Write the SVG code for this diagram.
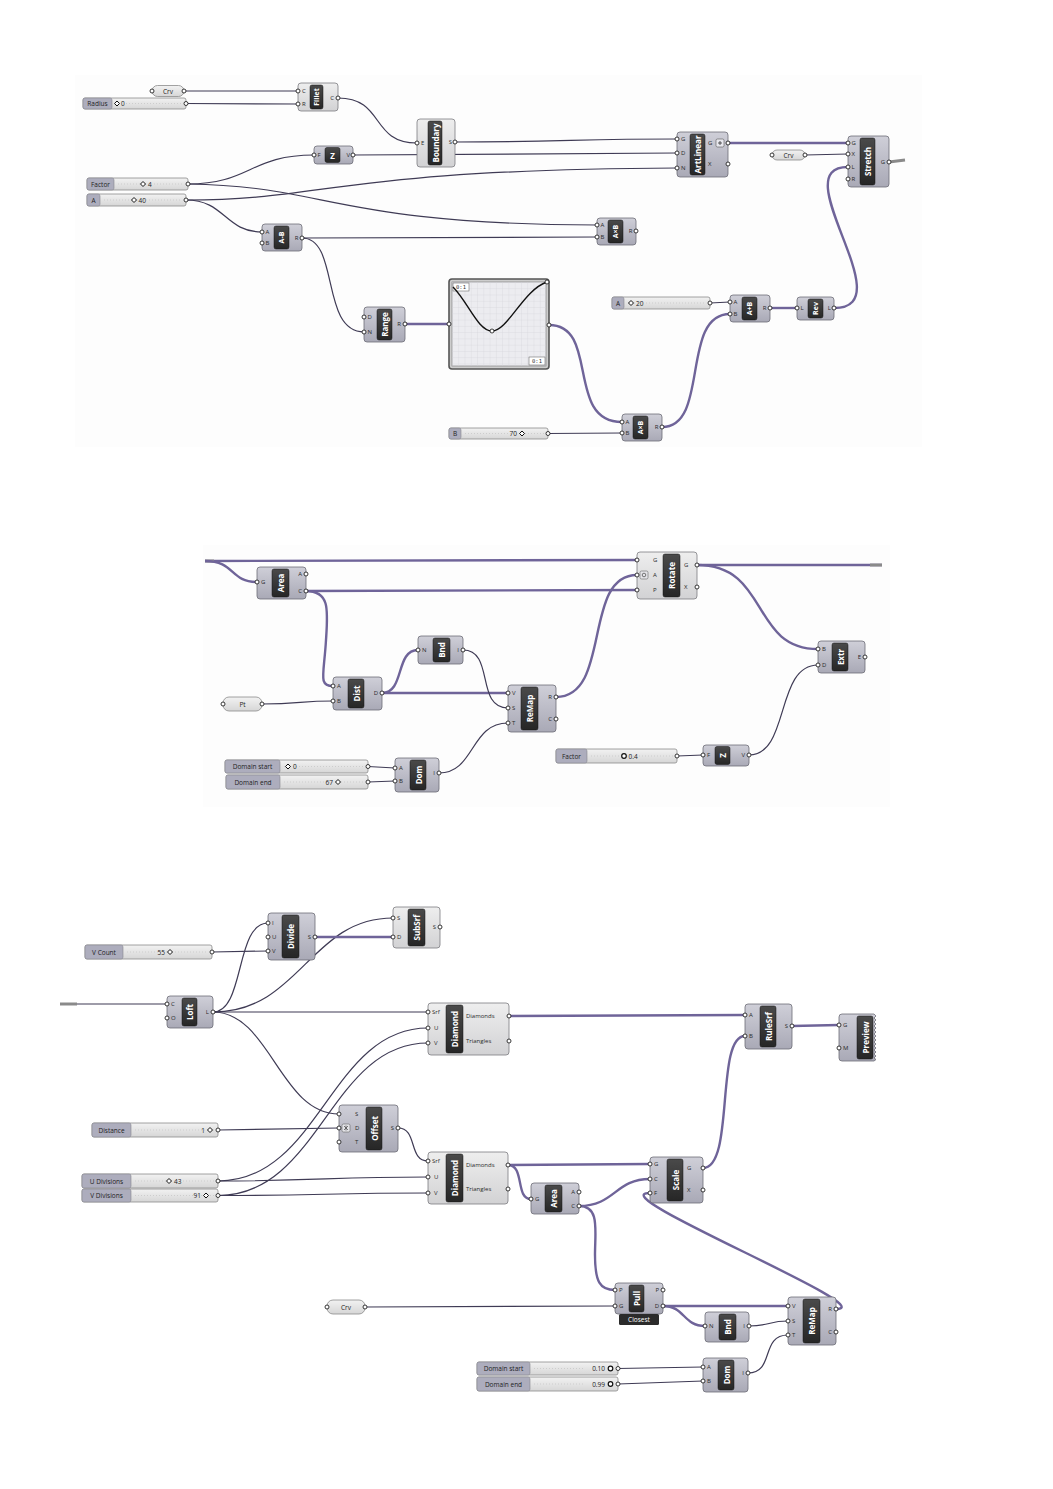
<svg xmlns="http://www.w3.org/2000/svg" width="1053" height="1489" viewBox="0 0 1053 1489">
<defs>
<linearGradient id="gb" x1="0" y1="0" x2="0" y2="1"><stop offset="0" stop-color="#cfcfd8"/><stop offset="1" stop-color="#a9a9b6"/></linearGradient>
<linearGradient id="gl" x1="0" y1="0" x2="0" y2="1"><stop offset="0" stop-color="#eeeeee"/><stop offset="1" stop-color="#d2d2d4"/></linearGradient>
<linearGradient id="gs" x1="0" y1="0" x2="0" y2="1"><stop offset="0" stop-color="#f2f2f2"/><stop offset="1" stop-color="#d6d6d6"/></linearGradient>
<linearGradient id="gk" x1="0" y1="0" x2="0" y2="1"><stop offset="0" stop-color="#4a4a4a"/><stop offset="1" stop-color="#262626"/></linearGradient>
<pattern id="grid" x="452" y="282" width="6.27" height="6.27" patternUnits="userSpaceOnUse"><path d="M0,0H6.27M0,0V6.27" fill="none" stroke="#d2d2d8" stroke-width="0.6"/></pattern>
<style>
.cb{fill:url(#gb);stroke:#6c6c76;stroke-width:.8}
.cbl{fill:url(#gl);stroke:#7c7c82;stroke-width:.8}
.lb{fill:url(#gk);stroke:#151515;stroke-width:.5}
.lt{font-family:"Open Sans","DejaVu Sans",sans-serif;font-weight:bold;font-size:8px;fill:#fff;text-anchor:middle;dominant-baseline:central}
.pl{font-family:"Open Sans","DejaVu Sans",sans-serif;font-size:6px;fill:#2a2a2a;dominant-baseline:central}
.pr{font-family:"Open Sans","DejaVu Sans",sans-serif;font-size:6px;fill:#2a2a2a;dominant-baseline:central;text-anchor:end}
.pt{fill:#fff;stroke:#222;stroke-width:.9}
.w{fill:none;stroke:#3f3b55;stroke-width:1.2}
.wt{fill:none;stroke:#6f6499;stroke-width:2.4}
.stub{fill:none;stroke:#8a8a8a;stroke-width:3}
.sb{fill:url(#gs);stroke:#8a8a8a;stroke-width:.8}
.sl{fill:#adadbd;stroke:#86868f;stroke-width:.6}
.st{font-family:"Open Sans","DejaVu Sans",sans-serif;font-size:6.5px;fill:#222;dominant-baseline:central}
.stc{font-family:"Open Sans","DejaVu Sans",sans-serif;font-size:6.5px;fill:#222;dominant-baseline:central;text-anchor:middle}
.str{font-family:"Open Sans","DejaVu Sans",sans-serif;font-size:6.5px;fill:#222;dominant-baseline:central;text-anchor:end}
.trk{stroke:#cdcdcd;stroke-width:1;stroke-dasharray:1 2}
.grip{fill:#fff;stroke:#111;stroke-width:1}
.pm{fill:url(#gs);stroke:#8a8a8a;stroke-width:.8}
</style>
</defs>
<rect x="0" y="0" width="1053" height="1489" fill="#ffffff"/>
<rect x="75" y="75" width="847" height="372" fill="#fdfdfd"/>
<rect x="203" y="545" width="687" height="262" fill="#fdfdfd"/>

<g id="connectors">
<!-- section 1 -->
<path class="w" d="M184,91 L298,91"/>
<path class="w" d="M186,103.5 L298,104"/>
<path class="w" d="M338,98 C385,98 370,143 417,143"/>
<path class="w" d="M455,142 C560,142 580,139 677,139"/>
<path class="w" d="M353,155 L677,153"/>
<path class="w" d="M188,184 C250,184 250,155 314,155"/>
<path class="w" d="M188,184 C330,186 330,224 597,225"/>
<path class="w" d="M186,200 C330,200 330,170 677,168"/>
<path class="w" d="M186,200 C225,200 225,232 262,232"/>
<path class="w" d="M302,238 L597,237"/>
<path class="w" d="M302,238 C340,238 320,332 364,332"/>
<path class="wt" d="M405,324 L449,324"/>
<path class="wt" d="M549,325 C600,325 565,422 622,422"/>
<path class="w" d="M548,433.5 L622,433"/>
<path class="wt" d="M662,427 C710,427 680,314 730,314"/>
<path class="w" d="M710,303 L730,302"/>
<path class="wt" d="M770,308 L797,308"/>
<path class="wt" d="M834,308 C905,308 782,167 848,167"/>
<path class="wt" d="M728,143 L848,143"/>
<path class="w" d="M805,155 L848,154"/>
<path class="stub" d="M889,162 L905,160"/>
<!-- section 2 -->
<path class="wt" d="M205,561 L637,560"/>
<path class="stub" d="M205,561 L214,561"/>
<path class="wt" d="M205,561 C235,561 230,582 257,582"/>
<path class="wt" d="M306,591 L637,590"/>
<path class="wt" d="M306,591 C330,591 328,610 326,640 C324,675 318,686 333,686"/>
<path class="w" d="M262,704 C300,704 300,701 333,701"/>
<path class="wt" d="M382,693 L508,693"/>
<path class="wt" d="M382,693 C405,693 395,650 418,650"/>
<path class="w" d="M463,650 C495,650 475,708 508,708"/>
<path class="w" d="M368,766.5 L395,768"/>
<path class="w" d="M368,782 L395,781"/>
<path class="w" d="M439,773 C475,773 470,723 508,723"/>
<path class="wt" d="M556,697 C612,697 582,575 637,575"/>
<path class="wt" d="M697,565 L882,565"/>
<path class="stub" d="M870,565 L882,565"/>
<path class="wt" d="M697,565 C770,565 750,649 818,649"/>
<path class="w" d="M677,756 L703,755"/>
<path class="w" d="M749,755 C790,755 775,665 818,665"/>
<!-- section 3 -->
<path class="w" d="M60,1004 L167,1004"/>
<path class="stub" d="M60,1004 L77,1004"/>
<path class="w" d="M213,1012 C245,1012 235,923 268,923"/>
<path class="w" d="M213,1012 C300,1012 310,918 393,918"/>
<path class="w" d="M213,1012 L428,1012"/>
<path class="w" d="M213,1012 C270,1012 280,1114 339,1114"/>
<path class="w" d="M212,952 L268,951"/>
<path class="wt" d="M315,937 L393,937"/>
<path class="w" d="M218,1130 L339,1128"/>
<path class="w" d="M218,1181 C320,1181 330,1028 428,1028"/>
<path class="w" d="M218,1195.5 C320,1195.5 330,1043 428,1043"/>
<path class="w" d="M218,1181 C320,1181 330,1177 428,1177"/>
<path class="w" d="M218,1195.5 C320,1195.5 330,1193 428,1193"/>
<path class="w" d="M398,1128 C418,1128 408,1161 428,1161"/>
<path class="wt" d="M509,1016 L745,1015"/>
<path class="wt" d="M792,1026 L839,1025"/>
<path class="wt" d="M508,1165 L650,1164"/>
<path class="wt" d="M508,1165 C525,1165 515,1199 531,1199"/>
<path class="wt" d="M579,1206 C615,1206 615,1179 650,1179"/>
<path class="wt" d="M579,1206 C600,1206 595,1230 595,1255 C595,1282 600,1290 615,1290"/>
<path class="wt" d="M703,1168 C735,1168 715,1036 745,1036"/>
<path class="wt" d="M836,1309 C885,1309 598,1193 650,1193"/>
<path class="w" d="M365,1307 L615,1306"/>
<path class="wt" d="M663,1306 L788,1306"/>
<path class="wt" d="M663,1306 C685,1306 683,1326 705,1326"/>
<path class="w" d="M749,1326 C770,1326 768,1321 788,1321"/>
<path class="w" d="M618,1368.5 L703,1367"/>
<path class="w" d="M618,1384 L703,1381"/>
<path class="w" d="M748,1373 C775,1373 760,1335 788,1335"/>
</g>

<!-- ============ SECTION 1 ============ -->
<g id="crv1">
<rect class="pm" x="152" y="85.5" width="32" height="11" rx="5.5"/>
<text class="stc" x="168" y="91">Crv</text>
<circle class="pt" cx="152" cy="91" r="2"/><circle class="pt" cx="184" cy="91" r="2"/>
</g>
<g id="radius">
<rect class="sb" x="83" y="98" width="103" height="11" rx="2"/>
<rect class="sl" x="83" y="98" width="29" height="11" rx="2"/>
<text class="stc" x="97.5" y="103.5">Radius</text>
<line class="trk" x1="126" y1="103.5" x2="182" y2="103.5"/>
<polygon class="grip" points="117,101 119.5,103.5 117,106 114.5,103.5"/>
<text class="st" x="121" y="103.5">0</text>
<circle class="pt" cx="186" cy="103.5" r="2"/>
</g>
<g id="fillet">
<rect class="cbl" x="298" y="83" width="40" height="28" rx="3"/>
<rect class="lb" x="310" y="85" width="13" height="24" rx="2"/>
<text class="lt" transform="translate(316.5,97) rotate(-90)" style="font-size:7px">Fillet</text>
<text class="pl" x="302" y="91">C</text><text class="pl" x="302" y="104">R</text>
<text class="pr" x="334" y="98">C</text>
<circle class="pt" cx="298" cy="91" r="2"/><circle class="pt" cx="298" cy="104" r="2"/><circle class="pt" cx="338" cy="98" r="2"/>
</g>
<g id="boundary">
<rect class="cbl" x="417" y="119" width="38" height="48" rx="3"/>
<rect class="lb" x="428" y="121" width="14" height="44" rx="2"/>
<text class="lt" transform="translate(435,143) rotate(-90)">Boundary</text>
<text class="pl" x="421" y="143">E</text><text class="pr" x="452" y="142">S</text>
<circle class="pt" cx="417" cy="143" r="2"/><circle class="pt" cx="455" cy="142" r="2"/>
</g>
<g id="unitz1">
<rect class="cb" x="314" y="146" width="39" height="18" rx="3"/>
<rect class="lb" x="325" y="147.5" width="15" height="15" rx="2"/>
<text class="lt" x="332.5" y="155">Z</text>
<text class="pl" x="317.5" y="155">F</text><text class="pr" x="350" y="155">V</text>
<circle class="pt" cx="314" cy="155" r="2"/><circle class="pt" cx="353" cy="155" r="2"/>
</g>
<g id="factor1">
<rect class="sb" x="87" y="178" width="101" height="12" rx="2"/>
<rect class="sl" x="87" y="178" width="27" height="12" rx="2"/>
<text class="stc" x="100.5" y="184">Factor</text>
<line class="trk" x1="118" y1="184" x2="184" y2="184"/>
<polygon class="grip" points="143,181.5 145.5,184 143,186.5 140.5,184"/>
<text class="st" x="148" y="184">4</text>
<circle class="pt" cx="188" cy="184" r="2"/>
</g>
<g id="sliderA40">
<rect class="sb" x="87" y="194" width="99" height="12" rx="2"/>
<rect class="sl" x="87" y="194" width="13" height="12" rx="2"/>
<text class="stc" x="93.5" y="200">A</text>
<line class="trk" x1="104" y1="200" x2="182" y2="200"/>
<polygon class="grip" points="134,197.5 136.5,200 134,202.5 131.5,200"/>
<text class="st" x="138.5" y="200">40</text>
<circle class="pt" cx="186" cy="200" r="2"/>
</g>
<g id="aminusb">
<rect class="cb" x="262" y="224" width="40" height="27" rx="3"/>
<rect class="lb" x="274" y="226" width="15" height="23" rx="2"/>
<text class="lt" transform="translate(281.5,237.5) rotate(-90)" style="font-size:7px">A-B</text>
<text class="pl" x="265.5" y="232">A</text><text class="pl" x="265.5" y="243">B</text>
<text class="pr" x="298.5" y="238">R</text>
<circle class="pt" cx="262" cy="232" r="2"/><circle class="pt" cx="262" cy="243" r="2"/><circle class="pt" cx="302" cy="238" r="2"/>
</g>
<g id="artlinear">
<rect class="cb" x="677" y="132" width="51" height="45" rx="3"/>
<rect class="lb" x="690" y="134" width="15" height="41" rx="2"/>
<text class="lt" transform="translate(697.5,154.5) rotate(-90)">ArtLinear</text>
<text class="pl" x="681" y="139">G</text><text class="pl" x="681" y="153">D</text><text class="pl" x="681" y="168">N</text>
<text class="pl" x="708" y="143">G</text><text class="pl" x="708" y="164">X</text>
<rect x="716" y="139" width="8" height="8" rx="1.5" fill="#e8e8ee" stroke="#555" stroke-width=".6"/>
<path d="M718,143 H722 M720,141 V145" stroke="#333" stroke-width=".8"/>
<circle class="pt" cx="677" cy="139" r="2"/><circle class="pt" cx="677" cy="153" r="2"/><circle class="pt" cx="677" cy="168" r="2"/>
<circle class="pt" cx="728" cy="143" r="2"/><circle class="pt" cx="728" cy="164" r="2"/>
</g>
<g id="stretch">
<rect class="cb" x="848" y="136" width="41" height="51" rx="3"/>
<rect class="lb" x="860" y="138" width="15" height="47" rx="2"/>
<text class="lt" transform="translate(867.5,161.5) rotate(-90)">Stretch</text>
<text class="pl" x="851.5" y="143">G</text><text class="pl" x="851.5" y="154">X</text><text class="pl" x="851.5" y="167">L</text><text class="pl" x="851.5" y="179">R</text>
<text class="pr" x="885" y="162">G</text>
<circle class="pt" cx="848" cy="143" r="2"/><circle class="pt" cx="848" cy="154" r="2"/><circle class="pt" cx="848" cy="167" r="2"/><circle class="pt" cx="848" cy="179" r="2"/>
<circle class="pt" cx="889" cy="162" r="2"/>
</g>
<g id="crv2">
<rect class="pm" x="772" y="150" width="33" height="10" rx="5"/>
<text class="stc" x="788.5" y="155">Crv</text>
<circle class="pt" cx="772" cy="155" r="2"/><circle class="pt" cx="805" cy="155" r="2"/>
</g>
<g id="atimesb1">
<rect class="cb" x="597" y="218" width="39" height="27" rx="3"/>
<rect class="lb" x="608" y="220" width="15" height="23" rx="2"/>
<text class="lt" transform="translate(615.5,231.5) rotate(-90)" style="font-size:7px">A×B</text>
<text class="pl" x="600.5" y="225">A</text><text class="pl" x="600.5" y="237">B</text>
<text class="pr" x="632.5" y="231">R</text>
<circle class="pt" cx="597" cy="225" r="2"/><circle class="pt" cx="597" cy="237" r="2"/><circle class="pt" cx="636" cy="231" r="2"/>
</g>
<g id="range">
<rect class="cb" x="364" y="307" width="41" height="35" rx="3"/>
<rect class="lb" x="377" y="309" width="15" height="31" rx="2"/>
<text class="lt" transform="translate(384.5,324.5) rotate(-90)">Range</text>
<text class="pl" x="367.5" y="317">D</text><text class="pl" x="367.5" y="332">N</text>
<text class="pr" x="401" y="324">R</text>
<circle class="pt" cx="364" cy="317" r="2"/><circle class="pt" cx="364" cy="332" r="2"/><circle class="pt" cx="405" cy="324" r="2"/>
</g>
<g id="graphmapper">
<rect x="449" y="279" width="100" height="90" rx="3" fill="#cdcdcd" stroke="#555" stroke-width="1.6"/>
<rect x="452" y="282" width="94" height="84" fill="#ececf0" stroke="#777" stroke-width=".6"/>
<rect x="452" y="282" width="94" height="84" fill="url(#grid)"/>
<rect x="453" y="283" width="16" height="8" fill="#fff" stroke="#555" stroke-width=".5"/>
<text x="461" y="287.2" font-family="DejaVu Sans Mono, monospace" font-size="5.5" text-anchor="middle" dominant-baseline="central" fill="#333">0:1</text>
<rect x="529" y="357" width="16" height="8" fill="#fff" stroke="#555" stroke-width=".5"/>
<text x="537" y="361.2" font-family="DejaVu Sans Mono, monospace" font-size="5.5" text-anchor="middle" dominant-baseline="central" fill="#333">0:1</text>
<path d="M453,287 C468,302 478,331 492,331 C508,331 523,290 547,282" fill="none" stroke="#111" stroke-width="1.4"/>
<circle cx="492" cy="331" r="2" fill="#fff" stroke="#111" stroke-width=".8"/>
<circle cx="547" cy="282" r="2" fill="#fff" stroke="#111" stroke-width=".8"/>
<circle class="pt" cx="449" cy="324" r="2"/><circle class="pt" cx="549" cy="325" r="2"/>
</g>
<g id="atimesb2">
<rect class="cb" x="622" y="414" width="40" height="27" rx="3"/>
<rect class="lb" x="633" y="416" width="15" height="23" rx="2"/>
<text class="lt" transform="translate(640.5,427.5) rotate(-90)" style="font-size:7px">A×B</text>
<text class="pl" x="625.5" y="422">A</text><text class="pl" x="625.5" y="433">B</text>
<text class="pr" x="658.5" y="427">R</text>
<circle class="pt" cx="622" cy="422" r="2"/><circle class="pt" cx="622" cy="433" r="2"/><circle class="pt" cx="662" cy="427" r="2"/>
</g>
<g id="sliderB70">
<rect class="sb" x="449" y="428" width="99" height="11" rx="2"/>
<rect class="sl" x="449" y="428" width="12" height="11" rx="2"/>
<text class="stc" x="455" y="433.5">B</text>
<line class="trk" x1="465" y1="433.5" x2="544" y2="433.5"/>
<text class="str" x="517" y="433.5">70</text>
<polygon class="grip" points="522,431 524.5,433.5 522,436 519.5,433.5"/>
<circle class="pt" cx="548" cy="433.5" r="2"/>
</g>
<g id="sliderA20">
<rect class="sb" x="612" y="297" width="98" height="12" rx="2"/>
<rect class="sl" x="612" y="297" width="12" height="12" rx="2"/>
<text class="stc" x="618" y="303">A</text>
<line class="trk" x1="628" y1="303" x2="706" y2="303"/>
<polygon class="grip" points="631,300.5 633.5,303 631,305.5 628.5,303"/>
<text class="st" x="636" y="303">20</text>
<circle class="pt" cx="710" cy="303" r="2"/>
</g>
<g id="aplusb">
<rect class="cb" x="730" y="295" width="40" height="27" rx="3"/>
<rect class="lb" x="742" y="297" width="15" height="23" rx="2"/>
<text class="lt" transform="translate(749.5,308.5) rotate(-90)" style="font-size:7px">A+B</text>
<text class="pl" x="733.5" y="302">A</text><text class="pl" x="733.5" y="314">B</text>
<text class="pr" x="766.5" y="308">R</text>
<circle class="pt" cx="730" cy="302" r="2"/><circle class="pt" cx="730" cy="314" r="2"/><circle class="pt" cx="770" cy="308" r="2"/>
</g>
<g id="rev">
<rect class="cb" x="797" y="297" width="37" height="23" rx="3"/>
<rect class="lb" x="808" y="299" width="15" height="19" rx="2"/>
<text class="lt" transform="translate(815.5,308.5) rotate(-90)" style="font-size:7px">Rev</text>
<text class="pl" x="800.5" y="308">L</text><text class="pr" x="831" y="308">L</text>
<circle class="pt" cx="797" cy="308" r="2"/><circle class="pt" cx="834" cy="308" r="2"/>
</g>

<!-- ============ SECTION 2 ============ -->
<g id="area2">
<rect class="cb" x="257" y="567" width="49" height="32" rx="3"/>
<rect class="lb" x="272" y="569" width="17" height="28" rx="2"/>
<text class="lt" transform="translate(280.5,583) rotate(-90)">Area</text>
<text class="pl" x="261" y="582">G</text>
<text class="pr" x="302" y="574">A</text><text class="pr" x="302" y="591">C</text>
<circle class="pt" cx="257" cy="582" r="2"/><circle class="pt" cx="306" cy="574" r="2"/><circle class="pt" cx="306" cy="591" r="2"/>
</g>
<g id="dist">
<rect class="cb" x="333" y="677" width="49" height="33" rx="3"/>
<rect class="lb" x="348" y="679" width="16" height="29" rx="2"/>
<text class="lt" transform="translate(356,693.5) rotate(-90)">Dist</text>
<text class="pl" x="337" y="686">A</text><text class="pl" x="337" y="701">B</text>
<text class="pr" x="378" y="693">D</text>
<circle class="pt" cx="333" cy="686" r="2"/><circle class="pt" cx="333" cy="701" r="2"/><circle class="pt" cx="382" cy="693" r="2"/>
</g>
<g id="pt">
<rect class="pm" x="223" y="697" width="39" height="14" rx="6"/>
<text class="stc" x="242.5" y="704">Pt</text>
<circle class="pt" cx="223" cy="704" r="2"/><circle class="pt" cx="262" cy="704" r="2"/>
</g>
<g id="bnd2">
<rect class="cb" x="418" y="636" width="45" height="28" rx="3"/>
<rect class="lb" x="433" y="638" width="17" height="24" rx="2"/>
<text class="lt" transform="translate(441.5,650) rotate(-90)">Bnd</text>
<text class="pl" x="422" y="650">N</text><text class="pr" x="459" y="650">I</text>
<circle class="pt" cx="418" cy="650" r="2"/><circle class="pt" cx="463" cy="650" r="2"/>
</g>
<g id="remap2">
<rect class="cb" x="508" y="685" width="48" height="47" rx="3"/>
<rect class="lb" x="521" y="687" width="17" height="43" rx="2"/>
<text class="lt" transform="translate(529.5,708.5) rotate(-90)">ReMap</text>
<text class="pl" x="512" y="693">V</text><text class="pl" x="512" y="708">S</text><text class="pl" x="512" y="723">T</text>
<text class="pr" x="552" y="697">R</text><text class="pr" x="552" y="719">C</text>
<circle class="pt" cx="508" cy="693" r="2"/><circle class="pt" cx="508" cy="708" r="2"/><circle class="pt" cx="508" cy="723" r="2"/>
<circle class="pt" cx="556" cy="697" r="2"/><circle class="pt" cx="556" cy="719" r="2"/>
</g>
<g id="domstart2">
<rect class="sb" x="225" y="760" width="143" height="13" rx="2"/>
<rect class="sl" x="225" y="760" width="55" height="13" rx="2"/>
<text class="stc" x="252.5" y="766.5">Domain start</text>
<line class="trk" x1="284" y1="766.5" x2="364" y2="766.5"/>
<polygon class="grip" points="288,764 290.5,766.5 288,769 285.5,766.5"/>
<text class="st" x="293" y="766.5">0</text>
<circle class="pt" cx="368" cy="766.5" r="2"/>
</g>
<g id="domend2">
<rect class="sb" x="226" y="775" width="142" height="14" rx="2"/>
<rect class="sl" x="226" y="775" width="54" height="14" rx="2"/>
<text class="stc" x="253" y="782">Domain end</text>
<line class="trk" x1="284" y1="782" x2="364" y2="782"/>
<text class="str" x="333" y="782">67</text>
<polygon class="grip" points="338,779.5 340.5,782 338,784.5 335.5,782"/>
<circle class="pt" cx="368" cy="782" r="2"/>
</g>
<g id="dom2">
<rect class="cb" x="395" y="758" width="44" height="34" rx="3"/>
<rect class="lb" x="410" y="760" width="16" height="30" rx="2"/>
<text class="lt" transform="translate(418,775) rotate(-90)">Dom</text>
<text class="pl" x="399" y="768">A</text><text class="pl" x="399" y="781">B</text>
<text class="pr" x="435" y="773">I</text>
<circle class="pt" cx="395" cy="768" r="2"/><circle class="pt" cx="395" cy="781" r="2"/><circle class="pt" cx="439" cy="773" r="2"/>
</g>
<g id="rotate">
<rect class="cbl" x="637" y="552" width="60" height="47" rx="3"/>
<rect class="lb" x="663" y="554" width="17" height="43" rx="2"/>
<text class="lt" transform="translate(671.5,575.5) rotate(-90)">Rotate</text>
<rect x="640" y="571" width="8" height="8" rx="1.5" fill="#e4e4e8" stroke="#666" stroke-width=".6"/>
<circle cx="644" cy="575" r="1.8" fill="none" stroke="#444" stroke-width=".7"/>
<text class="pl" x="653" y="560">G</text><text class="pl" x="653" y="575">A</text><text class="pl" x="653" y="590">P</text>
<text class="pl" x="684" y="565">G</text><text class="pl" x="684" y="587">X</text>
<circle class="pt" cx="637" cy="560" r="2"/><circle class="pt" cx="637" cy="575" r="2"/><circle class="pt" cx="637" cy="590" r="2"/>
<circle class="pt" cx="697" cy="565" r="2"/><circle class="pt" cx="697" cy="587" r="2"/>
</g>
<g id="extr">
<rect class="cb" x="818" y="641" width="47" height="32" rx="3"/>
<rect class="lb" x="832" y="643" width="16" height="28" rx="2"/>
<text class="lt" transform="translate(840,657) rotate(-90)">Extr</text>
<text class="pl" x="822" y="649">B</text><text class="pl" x="822" y="665">D</text>
<text class="pr" x="861" y="657">E</text>
<circle class="pt" cx="818" cy="649" r="2"/><circle class="pt" cx="818" cy="665" r="2"/><circle class="pt" cx="865" cy="657" r="2"/>
</g>
<g id="factor2">
<rect class="sb" x="556" y="749" width="121" height="14" rx="2"/>
<rect class="sl" x="556" y="749" width="31" height="14" rx="2"/>
<text class="stc" x="571.5" y="756">Factor</text>
<line class="trk" x1="591" y1="756" x2="673" y2="756"/>
<circle cx="624" cy="756" r="2.3" fill="#fff" stroke="#111" stroke-width="1.2"/>
<text class="st" x="628.5" y="756">0.4</text>
<circle class="pt" cx="677" cy="756" r="2"/>
</g>
<g id="unitz2">
<rect class="cb" x="703" y="745" width="46" height="21" rx="3"/>
<rect class="lb" x="715" y="746.5" width="15" height="18" rx="2"/>
<text class="lt" transform="translate(722.5,755.5) rotate(-90)">Z</text>
<text class="pl" x="707" y="755">F</text><text class="pr" x="745" y="755">V</text>
<circle class="pt" cx="703" cy="755" r="2"/><circle class="pt" cx="749" cy="755" r="2"/>
</g>

<!-- ============ SECTION 3 ============ -->
<g id="vcount">
<rect class="sb" x="85" y="945" width="127" height="14" rx="2"/>
<rect class="sl" x="85" y="945" width="38" height="14" rx="2"/>
<text class="stc" x="104" y="952">V Count</text>
<line class="trk" x1="127" y1="952" x2="208" y2="952"/>
<text class="str" x="165" y="952">55</text>
<polygon class="grip" points="170,949.5 172.5,952 170,954.5 167.5,952"/>
<circle class="pt" cx="212" cy="952" r="2"/>
</g>
<g id="divide">
<rect class="cb" x="268" y="913" width="47" height="47" rx="3"/>
<rect class="lb" x="282" y="915" width="17" height="43" rx="2"/>
<text class="lt" transform="translate(290.5,936.5) rotate(-90)">Divide</text>
<text class="pl" x="272" y="923">I</text><text class="pl" x="272" y="937">U</text><text class="pl" x="272" y="951">V</text>
<text class="pr" x="311" y="937">S</text>
<circle class="pt" cx="268" cy="923" r="2"/><circle class="pt" cx="268" cy="937" r="2"/><circle class="pt" cx="268" cy="951" r="2"/><circle class="pt" cx="315" cy="937" r="2"/>
</g>
<g id="subsrf">
<rect class="cbl" x="393" y="907" width="47" height="41" rx="3"/>
<rect class="lb" x="408" y="909" width="17" height="37" rx="2"/>
<text class="lt" transform="translate(416.5,927.5) rotate(-90)">SubSrf</text>
<text class="pl" x="397" y="918">S</text><text class="pl" x="397" y="937">D</text>
<text class="pr" x="436" y="927">S</text>
<circle class="pt" cx="393" cy="918" r="2"/><circle class="pt" cx="393" cy="937" r="2"/><circle class="pt" cx="440" cy="927" r="2"/>
</g>
<g id="loft">
<rect class="cb" x="167" y="996" width="46" height="32" rx="3"/>
<rect class="lb" x="182" y="998" width="15" height="28" rx="2"/>
<text class="lt" transform="translate(189.5,1012) rotate(-90)">Loft</text>
<text class="pl" x="171" y="1004">C</text><text class="pl" x="171" y="1018">O</text>
<text class="pr" x="209" y="1012">L</text>
<circle class="pt" cx="167" cy="1004" r="2"/><circle class="pt" cx="167" cy="1018" r="2"/><circle class="pt" cx="213" cy="1012" r="2"/>
</g>
<g id="diamond1">
<rect class="cbl" x="428" y="1003" width="81" height="52" rx="3"/>
<rect class="lb" x="446" y="1005" width="17" height="48" rx="2"/>
<text class="lt" transform="translate(454.5,1029) rotate(-90)">Diamond</text>
<text class="pl" x="432" y="1012">Srf</text><text class="pl" x="434" y="1028">U</text><text class="pl" x="434" y="1043">V</text>
<text class="pl" x="466" y="1016">Diamonds</text><text class="pl" x="466" y="1041">Triangles</text>
<circle class="pt" cx="428" cy="1012" r="2"/><circle class="pt" cx="428" cy="1028" r="2"/><circle class="pt" cx="428" cy="1043" r="2"/>
<circle class="pt" cx="509" cy="1016" r="2"/><circle class="pt" cx="509" cy="1041" r="2"/>
</g>
<g id="rulesrf">
<rect class="cb" x="745" y="1004" width="47" height="45" rx="3"/>
<rect class="lb" x="760" y="1006" width="16" height="41" rx="2"/>
<text class="lt" transform="translate(768,1026.5) rotate(-90)">RuleSrf</text>
<text class="pl" x="749" y="1015">A</text><text class="pl" x="749" y="1036">B</text>
<text class="pr" x="788" y="1026">S</text>
<circle class="pt" cx="745" cy="1015" r="2"/><circle class="pt" cx="745" cy="1036" r="2"/><circle class="pt" cx="792" cy="1026" r="2"/>
</g>
<g id="preview">
<path class="cb" d="M842,1014 H874 l2,2 -2,2 l2,2 -2,2 l2,2 -2,2 l2,2 -2,2 l2,2 -2,2 l2,2 -2,2 l2,2 -2,2 l2,2 -2,2 l2,2 -2,2 l2,2 -2,2 l2,2 -2,2 l2,1.5 -2,1.5 H842 Q839,1061 839,1058 V1017 Q839,1014 842,1014 Z"/>
<rect class="lb" x="857" y="1016" width="16" height="43" rx="2"/>
<text class="lt" transform="translate(865,1037.5) rotate(-90)">Preview</text>
<text class="pl" x="843" y="1025">G</text><text class="pl" x="843" y="1048">M</text>
<circle class="pt" cx="839" cy="1025" r="2"/><circle class="pt" cx="839" cy="1048" r="2"/>
</g>
<g id="distance">
<rect class="sb" x="92" y="1123" width="126" height="14" rx="2"/>
<rect class="sl" x="92" y="1123" width="39" height="14" rx="2"/>
<text class="stc" x="111.5" y="1130">Distance</text>
<line class="trk" x1="135" y1="1130" x2="214" y2="1130"/>
<text class="str" x="205" y="1130">1</text>
<polygon class="grip" points="210,1127.5 212.5,1130 210,1132.5 207.5,1130"/>
<circle class="pt" cx="218" cy="1130" r="2"/>
</g>
<g id="offset">
<rect class="cb" x="339" y="1105" width="59" height="47" rx="3"/>
<rect class="lb" x="366" y="1107" width="16" height="43" rx="2"/>
<text class="lt" transform="translate(374,1128.5) rotate(-90)">Offset</text>
<rect x="342" y="1124" width="8" height="8" rx="1.5" fill="#e4e4e8" stroke="#666" stroke-width=".6"/>
<path d="M344,1126 L348,1130 M348,1126 L344,1130 M346,1125.5 V1130.5" stroke="#444" stroke-width=".7"/>
<text class="pl" x="355" y="1114">S</text><text class="pl" x="355" y="1128">D</text><text class="pl" x="355" y="1142">T</text>
<text class="pr" x="394" y="1128">S</text>
<circle class="pt" cx="339" cy="1114" r="2"/><circle class="pt" cx="339" cy="1128" r="2"/><circle class="pt" cx="339" cy="1142" r="2"/><circle class="pt" cx="398" cy="1128" r="2"/>
</g>
<g id="udiv">
<rect class="sb" x="82" y="1174" width="136" height="14" rx="2"/>
<rect class="sl" x="82" y="1174" width="49" height="14" rx="2"/>
<text class="stc" x="106.5" y="1181">U Divisions</text>
<line class="trk" x1="135" y1="1181" x2="214" y2="1181"/>
<polygon class="grip" points="169,1178.5 171.5,1181 169,1183.5 166.5,1181"/>
<text class="st" x="174" y="1181">43</text>
<circle class="pt" cx="218" cy="1181" r="2"/>
</g>
<g id="vdiv">
<rect class="sb" x="82" y="1189" width="136" height="13" rx="2"/>
<rect class="sl" x="82" y="1189" width="49" height="13" rx="2"/>
<text class="stc" x="106.5" y="1195.5">V Divisions</text>
<line class="trk" x1="135" y1="1195.5" x2="214" y2="1195.5"/>
<text class="str" x="201" y="1195.5">91</text>
<polygon class="grip" points="206,1193 208.5,1195.5 206,1198 203.5,1195.5"/>
<circle class="pt" cx="218" cy="1195.5" r="2"/>
</g>
<g id="diamond2">
<rect class="cbl" x="428" y="1152" width="80" height="52" rx="3"/>
<rect class="lb" x="446" y="1154" width="17" height="48" rx="2"/>
<text class="lt" transform="translate(454.5,1178) rotate(-90)">Diamond</text>
<text class="pl" x="432" y="1161">Srf</text><text class="pl" x="434" y="1177">U</text><text class="pl" x="434" y="1193">V</text>
<text class="pl" x="466" y="1165">Diamonds</text><text class="pl" x="466" y="1189">Triangles</text>
<circle class="pt" cx="428" cy="1161" r="2"/><circle class="pt" cx="428" cy="1177" r="2"/><circle class="pt" cx="428" cy="1193" r="2"/>
<circle class="pt" cx="508" cy="1165" r="2"/><circle class="pt" cx="508" cy="1189" r="2"/>
</g>
<g id="area3">
<rect class="cb" x="531" y="1183" width="48" height="31" rx="3"/>
<rect class="lb" x="545" y="1185" width="17" height="27" rx="2"/>
<text class="lt" transform="translate(553.5,1198.5) rotate(-90)">Area</text>
<text class="pl" x="535" y="1199">G</text>
<text class="pr" x="575" y="1192">A</text><text class="pr" x="575" y="1206">C</text>
<circle class="pt" cx="531" cy="1199" r="2"/><circle class="pt" cx="579" cy="1192" r="2"/><circle class="pt" cx="579" cy="1206" r="2"/>
</g>
<g id="scale">
<rect class="cb" x="650" y="1157" width="53" height="46" rx="3"/>
<rect class="lb" x="667" y="1159" width="16" height="42" rx="2"/>
<text class="lt" transform="translate(675,1180) rotate(-90)">Scale</text>
<text class="pl" x="654" y="1164">G</text><text class="pl" x="654" y="1179">C</text><text class="pl" x="654" y="1193">F</text>
<text class="pl" x="687" y="1168">G</text><text class="pl" x="687" y="1190">X</text>
<circle class="pt" cx="650" cy="1164" r="2"/><circle class="pt" cx="650" cy="1179" r="2"/><circle class="pt" cx="650" cy="1193" r="2"/>
<circle class="pt" cx="703" cy="1168" r="2"/><circle class="pt" cx="703" cy="1190" r="2"/>
</g>
<g id="crv3">
<rect class="pm" x="327" y="1300" width="38" height="14" rx="6"/>
<text class="stc" x="346" y="1307">Crv</text>
<circle class="pt" cx="327" cy="1307" r="2"/><circle class="pt" cx="365" cy="1307" r="2"/>
</g>
<g id="pull">
<rect class="cb" x="615" y="1283" width="48" height="31" rx="3"/>
<rect class="lb" x="629" y="1285" width="15" height="27" rx="2"/>
<text class="lt" transform="translate(636.5,1298.5) rotate(-90)">Pull</text>
<text class="pl" x="619" y="1290">P</text><text class="pl" x="619" y="1306">G</text>
<text class="pr" x="659" y="1290">P</text><text class="pr" x="659" y="1306">D</text>
<circle class="pt" cx="615" cy="1290" r="2"/><circle class="pt" cx="615" cy="1306" r="2"/><circle class="pt" cx="663" cy="1290" r="2"/><circle class="pt" cx="663" cy="1306" r="2"/>
<rect x="619" y="1314" width="40" height="11" rx="1.5" fill="#2b2b2b"/>
<text x="639" y="1319.5" font-family="Open Sans, DejaVu Sans, sans-serif" font-size="6.5" fill="#fff" text-anchor="middle" dominant-baseline="central">Closest</text>
</g>
<g id="bnd3">
<rect class="cb" x="705" y="1312" width="44" height="30" rx="3"/>
<rect class="lb" x="719" y="1314" width="17" height="26" rx="2"/>
<text class="lt" transform="translate(727.5,1327) rotate(-90)">Bnd</text>
<text class="pl" x="709" y="1326">N</text><text class="pr" x="745" y="1326">I</text>
<circle class="pt" cx="705" cy="1326" r="2"/><circle class="pt" cx="749" cy="1326" r="2"/>
</g>
<g id="remap3">
<rect class="cb" x="788" y="1297" width="48" height="48" rx="3"/>
<rect class="lb" x="803" y="1299" width="17" height="44" rx="2"/>
<text class="lt" transform="translate(811.5,1321) rotate(-90)">ReMap</text>
<text class="pl" x="792" y="1306">V</text><text class="pl" x="792" y="1321">S</text><text class="pl" x="792" y="1335">T</text>
<text class="pr" x="832" y="1309">R</text><text class="pr" x="832" y="1332">C</text>
<circle class="pt" cx="788" cy="1306" r="2"/><circle class="pt" cx="788" cy="1321" r="2"/><circle class="pt" cx="788" cy="1335" r="2"/>
<circle class="pt" cx="836" cy="1309" r="2"/><circle class="pt" cx="836" cy="1332" r="2"/>
</g>
<g id="domstart3">
<rect class="sb" x="477" y="1362" width="141" height="13" rx="2"/>
<rect class="sl" x="477" y="1362" width="53" height="13" rx="2"/>
<text class="stc" x="503.5" y="1368.5">Domain start</text>
<line class="trk" x1="534" y1="1368.5" x2="585" y2="1368.5"/>
<text class="str" x="605" y="1368.5">0.10</text>
<circle cx="610.5" cy="1368.5" r="2.3" fill="#fff" stroke="#111" stroke-width="1.2"/>
<circle class="pt" cx="618" cy="1368.5" r="2"/>
</g>
<g id="domend3">
<rect class="sb" x="477" y="1377" width="141" height="14" rx="2"/>
<rect class="sl" x="477" y="1377" width="53" height="14" rx="2"/>
<text class="stc" x="503.5" y="1384">Domain end</text>
<line class="trk" x1="534" y1="1384" x2="585" y2="1384"/>
<text class="str" x="605" y="1384">0.99</text>
<circle cx="610.5" cy="1384" r="2.3" fill="#fff" stroke="#111" stroke-width="1.2"/>
<circle class="pt" cx="618" cy="1384" r="2"/>
</g>
<g id="dom3">
<rect class="cb" x="703" y="1358" width="45" height="34" rx="3"/>
<rect class="lb" x="718" y="1360" width="16" height="30" rx="2"/>
<text class="lt" transform="translate(726,1375) rotate(-90)">Dom</text>
<text class="pl" x="707" y="1367">A</text><text class="pl" x="707" y="1381">B</text>
<text class="pr" x="744" y="1373">I</text>
<circle class="pt" cx="703" cy="1367" r="2"/><circle class="pt" cx="703" cy="1381" r="2"/><circle class="pt" cx="748" cy="1373" r="2"/>
</g>
</svg>
